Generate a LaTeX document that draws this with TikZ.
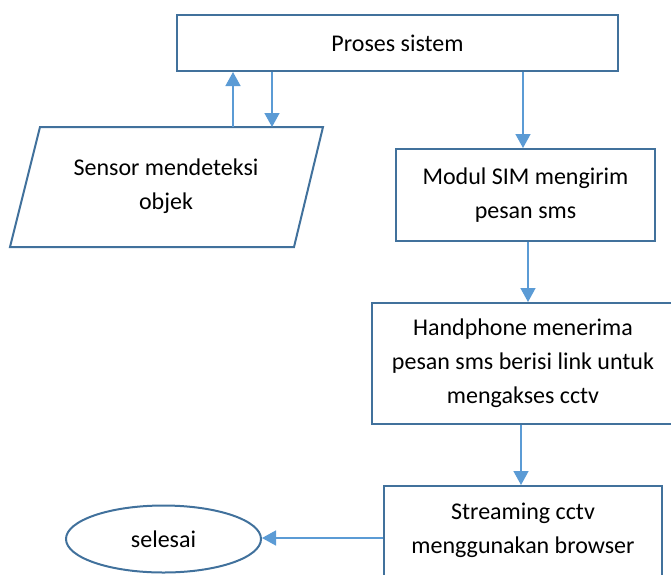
\documentclass[tikz,border=0pt]{standalone}
\usepackage{fontspec}
\setmainfont{Carlito}
\usetikzlibrary{arrows.meta,shapes.geometric}
\definecolor{boxc}{HTML}{41719C}
\definecolor{arrc}{HTML}{5B9BD5}
\tikzset{
  box/.style={draw=boxc, line width=2pt, fill=white, align=center, inner sep=0pt},
  txt/.style={align=center, font=\fontsize{24}{34}\selectfont},
  arr/.style={draw=arrc, line width=1.5pt, -{Triangle[width=15pt,length=14pt]}},
}
\begin{document}
\begin{tikzpicture}[x=1pt,y=-1pt]
\useasboundingbox (0,0) rectangle (671,574);
\clip (0,0) rectangle (671,574);
% Proses sistem
\node[box, txt, minimum width=441pt, minimum height=56pt] (proses) at (397.5,43) {Proses sistem};
% Sensor (parallelogram)
\draw[draw=boxc, line width=2pt] (40,127) -- (323,127) -- (294,247) -- (10,247) -- cycle;
\node[txt] (sensor) at (166,186) {Sensor mendeteksi\\objek};
\coordinate (sup) at (233,127);
\coordinate (sdown) at (272,127);
% Modul SIM
\node[box, txt, minimum width=259pt, minimum height=92pt] (modul) at (525.5,195) {Modul SIM mengirim\\pesan sms};
% Handphone
\node[box, txt, minimum width=302pt, minimum height=121pt] (hp) at (523,363.5) {Handphone menerima\\pesan sms berisi link untuk\\mengakses cctv};
% Streaming
\node[box, minimum width=278pt, minimum height=100pt] (stream) at (523,536) {};
\node[txt] (streamtxt) at (523,530) {Streaming cctv\\menggunakan browser};
% selesai
\node[ellipse, draw=boxc, line width=2pt, txt, minimum width=195pt, minimum height=67pt, inner sep=0pt] (end) at (163.5,539) {selesai};
% connectors
\draw[arr] (sup) -- (sup |- proses.south);
\draw[arr] (proses.south -| sdown) -- (sdown);
\draw[arr] (proses.south -| 523,0) -- (modul.north -| 523,0);
\draw[arr] (modul.south -| 528,0) -- (hp.north -| 528,0);
\draw[arr] (hp.south -| 521,0) -- (stream.north -| 521,0);
\draw[arr] (stream.west |- 0,538) -- (end.east |- 0,538);
\end{tikzpicture}
\end{document}
